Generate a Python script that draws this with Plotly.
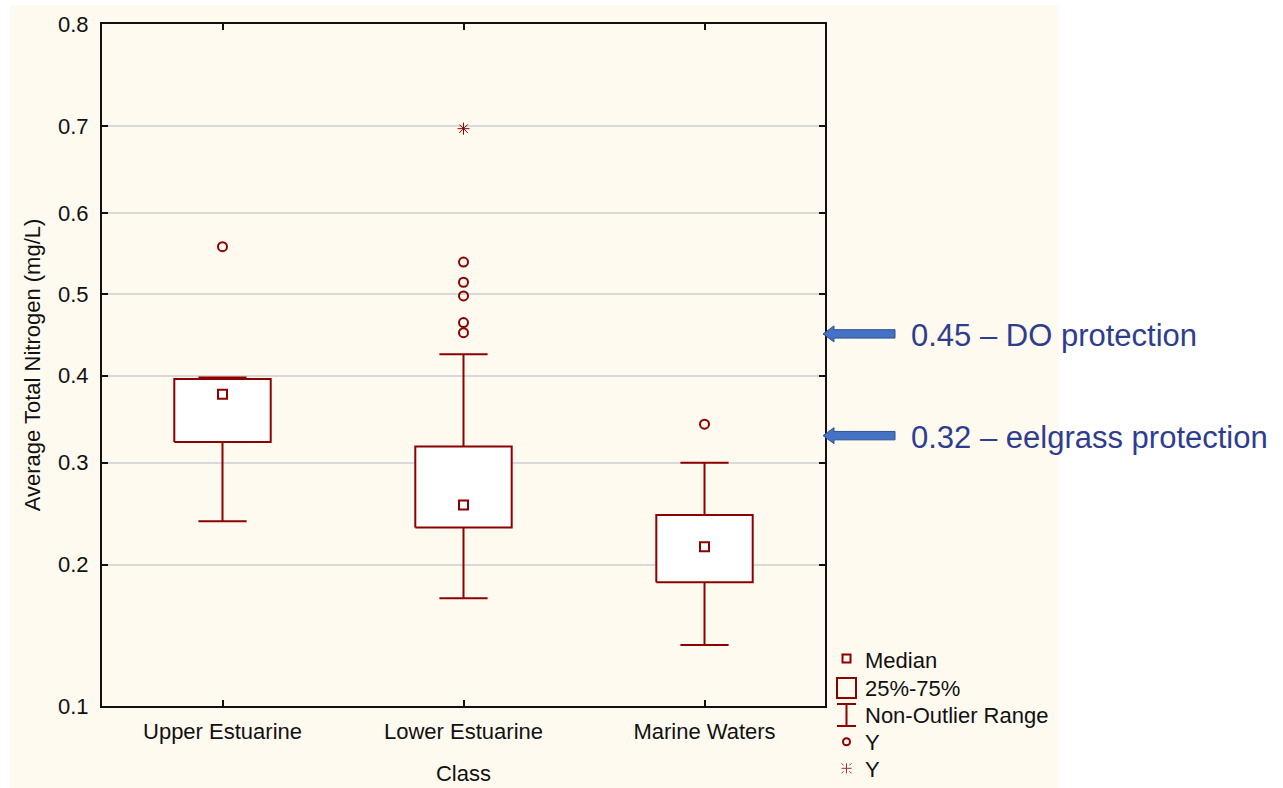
import plotly.graph_objects as go
from statistics import NormalDist

_nd = NormalDist()


def probit(v):
    return _nd.inv_cdf(v)


# ---------------- data ----------------
categories = ["Upper Estuarine", "Lower Estuarine", "Marine Waters"]
q1 = [0.323, 0.234, 0.185]
median = [0.378, 0.256, 0.216]
q3 = [0.396, 0.318, 0.246]
whisker_low = [0.240, 0.172, 0.1375]
whisker_high = [0.398, 0.426, 0.300]

outlier_cat = ["Upper Estuarine", "Lower Estuarine", "Lower Estuarine",
               "Lower Estuarine", "Lower Estuarine", "Lower Estuarine",
               "Marine Waters"]
outlier_val = [0.559, 0.540, 0.515, 0.498, 0.465, 0.4525, 0.343]

extreme_cat = ["Lower Estuarine"]
extreme_val = [0.697]

y_ticks = [0.1, 0.2, 0.3, 0.4, 0.5, 0.6, 0.7, 0.8]
y_tick_labels = ["0.1", "0.2", "0.3", "0.4", "0.5", "0.6", "0.7", "0.8"]

threshold_labels = ["0.45 \u2013 DO protection", "0.32 \u2013 eelgrass protection"]
threshold_arrow_at = [0.451, 0.330]

legend_labels = ["Median", "25%-75%", "Non-Outlier Range", "Y", "Y"]

# ---------------- styling ----------------
RED = "#8B0000"
BLUE_TXT = "#2F3D8E"
ARROW_FILL = "#4472C4"
ARROW_LINE = "#2F528F"
CREAM = "#FFFAF0"
FONT = "Liberation Sans, Arial, sans-serif"
FS = 22
W, H = 1283, 788
L, R, T, B = 102, 458, 24, 82
PW, PH = W - L - R, H - T - B
BOX_HALF = 0.2
CAP_HALF = 0.1


def px_x(px):
    return (px - L) / PW


def px_y(py):
    return (H - B - py) / PH


cat_pos = {c: i for i, c in enumerate(categories)}

fig = go.Figure()

# boxes (25%-75%) and whiskers (non-outlier range)
for i, c in enumerate(categories):
    xc = cat_pos[c]
    fig.add_trace(go.Scatter(
        x=[xc - BOX_HALF, xc + BOX_HALF, xc + BOX_HALF, xc - BOX_HALF, xc - BOX_HALF],
        y=[probit(q1[i]), probit(q1[i]), probit(q3[i]), probit(q3[i]), probit(q1[i])],
        mode="lines", fill="toself", fillcolor="white",
        line=dict(color=RED, width=2), showlegend=False, hoverinfo="skip",
    ))
    fig.add_trace(go.Scatter(
        x=[xc, xc, None, xc - CAP_HALF, xc + CAP_HALF, None,
           xc, xc, None, xc - CAP_HALF, xc + CAP_HALF],
        y=[probit(q3[i]), probit(whisker_high[i]), None,
           probit(whisker_high[i]), probit(whisker_high[i]), None,
           probit(q1[i]), probit(whisker_low[i]), None,
           probit(whisker_low[i]), probit(whisker_low[i])],
        mode="lines", line=dict(color=RED, width=2),
        showlegend=False, hoverinfo="skip",
    ))

fig.add_trace(go.Scatter(
    x=[cat_pos[c] for c in categories], y=[probit(v) for v in median], mode="markers",
    marker=dict(symbol="square-open", size=9, color=RED,
                line=dict(width=2, color=RED)),
    showlegend=False, hoverinfo="skip",
))

fig.add_trace(go.Scatter(
    x=[cat_pos[c] for c in outlier_cat], y=[probit(v) for v in outlier_val],
    mode="markers",
    marker=dict(symbol="circle-open", size=9, color=RED,
                line=dict(width=2, color=RED)),
    showlegend=False, hoverinfo="skip",
))

fig.add_trace(go.Scatter(
    x=[cat_pos[c] for c in extreme_cat], y=[probit(v) for v in extreme_val],
    mode="markers",
    marker=dict(symbol="asterisk-open", size=10, color=RED,
                line=dict(width=1, color=RED)),
    showlegend=False, hoverinfo="skip",
))

shapes = []
# cream slide background
shapes.append(dict(type="rect", xref="paper", yref="paper", layer="below",
                   x0=px_x(10), x1=px_x(1059), y0=px_y(790), y1=px_y(5),
                   fillcolor=CREAM, line=dict(width=0)))

# block arrows pointing at the thresholds
for v in threshold_arrow_at:
    shapes.append(dict(
        type="path", xref="paper", yref="y", xsizemode="pixel", ysizemode="pixel",
        xanchor=1, yanchor=probit(v),
        path="M -2,0 L 9,8 L 9,4.2 L 70,4.2 L 70,-4.2 L 9,-4.2 L 9,-8 Z",
        fillcolor=ARROW_FILL, line=dict(color=ARROW_LINE, width=1)))

# legend glyphs
lx = px_x(846.5)
legend_rows = [660.5, 688, 715, 742.5, 769.5]
shapes.append(dict(type="rect", xref="paper", yref="paper", xsizemode="pixel",
                   ysizemode="pixel", xanchor=lx, yanchor=px_y(658.5),
                   x0=-4, x1=4, y0=-4, y1=4, line=dict(color=RED, width=2)))
shapes.append(dict(type="rect", xref="paper", yref="paper", xsizemode="pixel",
                   ysizemode="pixel", xanchor=lx, yanchor=px_y(688),
                   x0=-9.5, x1=9.5, y0=-10, y1=10, line=dict(color=RED, width=2)))
shapes.append(dict(type="path", xref="paper", yref="paper", xsizemode="pixel",
                   ysizemode="pixel", xanchor=lx, yanchor=px_y(715),
                   path="M 0,11 L 0,-11 M -9.5,11 L 9.5,11 M -9.5,-11 L 9.5,-11",
                   line=dict(color=RED, width=2)))
shapes.append(dict(type="circle", xref="paper", yref="paper", xsizemode="pixel",
                   ysizemode="pixel", xanchor=lx, yanchor=px_y(741.7),
                   x0=-3.5, x1=3.5, y0=-3.5, y1=3.5, line=dict(color=RED, width=2)))
shapes.append(dict(type="path", xref="paper", yref="paper", xsizemode="pixel",
                   ysizemode="pixel", xanchor=lx, yanchor=px_y(768.3),
                   path=("M 0,-5 L 0,5 M -5,0 L 5,0 M -5,-5 L -3,-3 M 5,5 L 3,3 "
                         "M -5,5 L -3,3 M 5,-5 L 3,-3"),
                   line=dict(color=RED, width=1), opacity=0.8))

annotations = []
for lab, py in zip(legend_labels, legend_rows):
    annotations.append(dict(text=lab, xref="paper", yref="paper", x=px_x(862.5),
                            y=px_y(py), xanchor="left", yanchor="middle",
                            showarrow=False, font=dict(family=FONT, size=FS,
                                                        color="#111111")))
for lab, v in zip(threshold_labels, threshold_arrow_at):
    annotations.append(dict(text=lab, xref="paper", yref="y", x=px_x(909),
                            y=probit(v), yshift=-1.5, xanchor="left",
                            yanchor="middle", showarrow=False,
                            font=dict(family=FONT, size=31, color=BLUE_TXT)))

fig.update_layout(
    width=W, height=H, autosize=False,
    margin=dict(l=L, r=R, t=T, b=B, pad=0, autoexpand=False),
    paper_bgcolor="white", plot_bgcolor="white",
    font=dict(family=FONT, size=FS, color="#111111"),
    shapes=shapes, annotations=annotations,
    showlegend=False,
)

fig.update_xaxes(
    automargin=False,
    range=[-0.5, len(categories) - 0.5],
    tickmode="array", tickvals=[cat_pos[c] for c in categories], ticktext=categories,
    showline=True, linecolor="#111111", linewidth=2,
    mirror="ticks", ticks="inside", ticklen=6, tickwidth=1.5, tickcolor="#111111",
    showgrid=False, zeroline=False, ticklabelstandoff=5,
    title=dict(text="Class", standoff=22, font=dict(size=FS)),
    tickfont=dict(size=FS),
)
fig.update_yaxes(
    automargin=False,
    range=[probit(y_ticks[0]), probit(y_ticks[-1])],
    tickmode="array", tickvals=[probit(v) for v in y_ticks], ticktext=y_tick_labels,
    showline=True, linecolor="#111111", linewidth=2, mirror="ticks",
    ticks="inside", ticklen=6, tickwidth=1.5, tickcolor="#111111",
    showgrid=True, gridcolor="#D9D9D9", gridwidth=1.5, zeroline=False,
    ticklabelstandoff=7,
    title=dict(text="Average Total Nitrogen (mg/L)", standoff=11, font=dict(size=FS)),
    tickfont=dict(size=FS),
)

fig.write_html("out.html",
               config={"displayModeBar": False},
               post_script="document.body.style.margin='0px';"
                           "document.body.style.overflow='hidden';")
